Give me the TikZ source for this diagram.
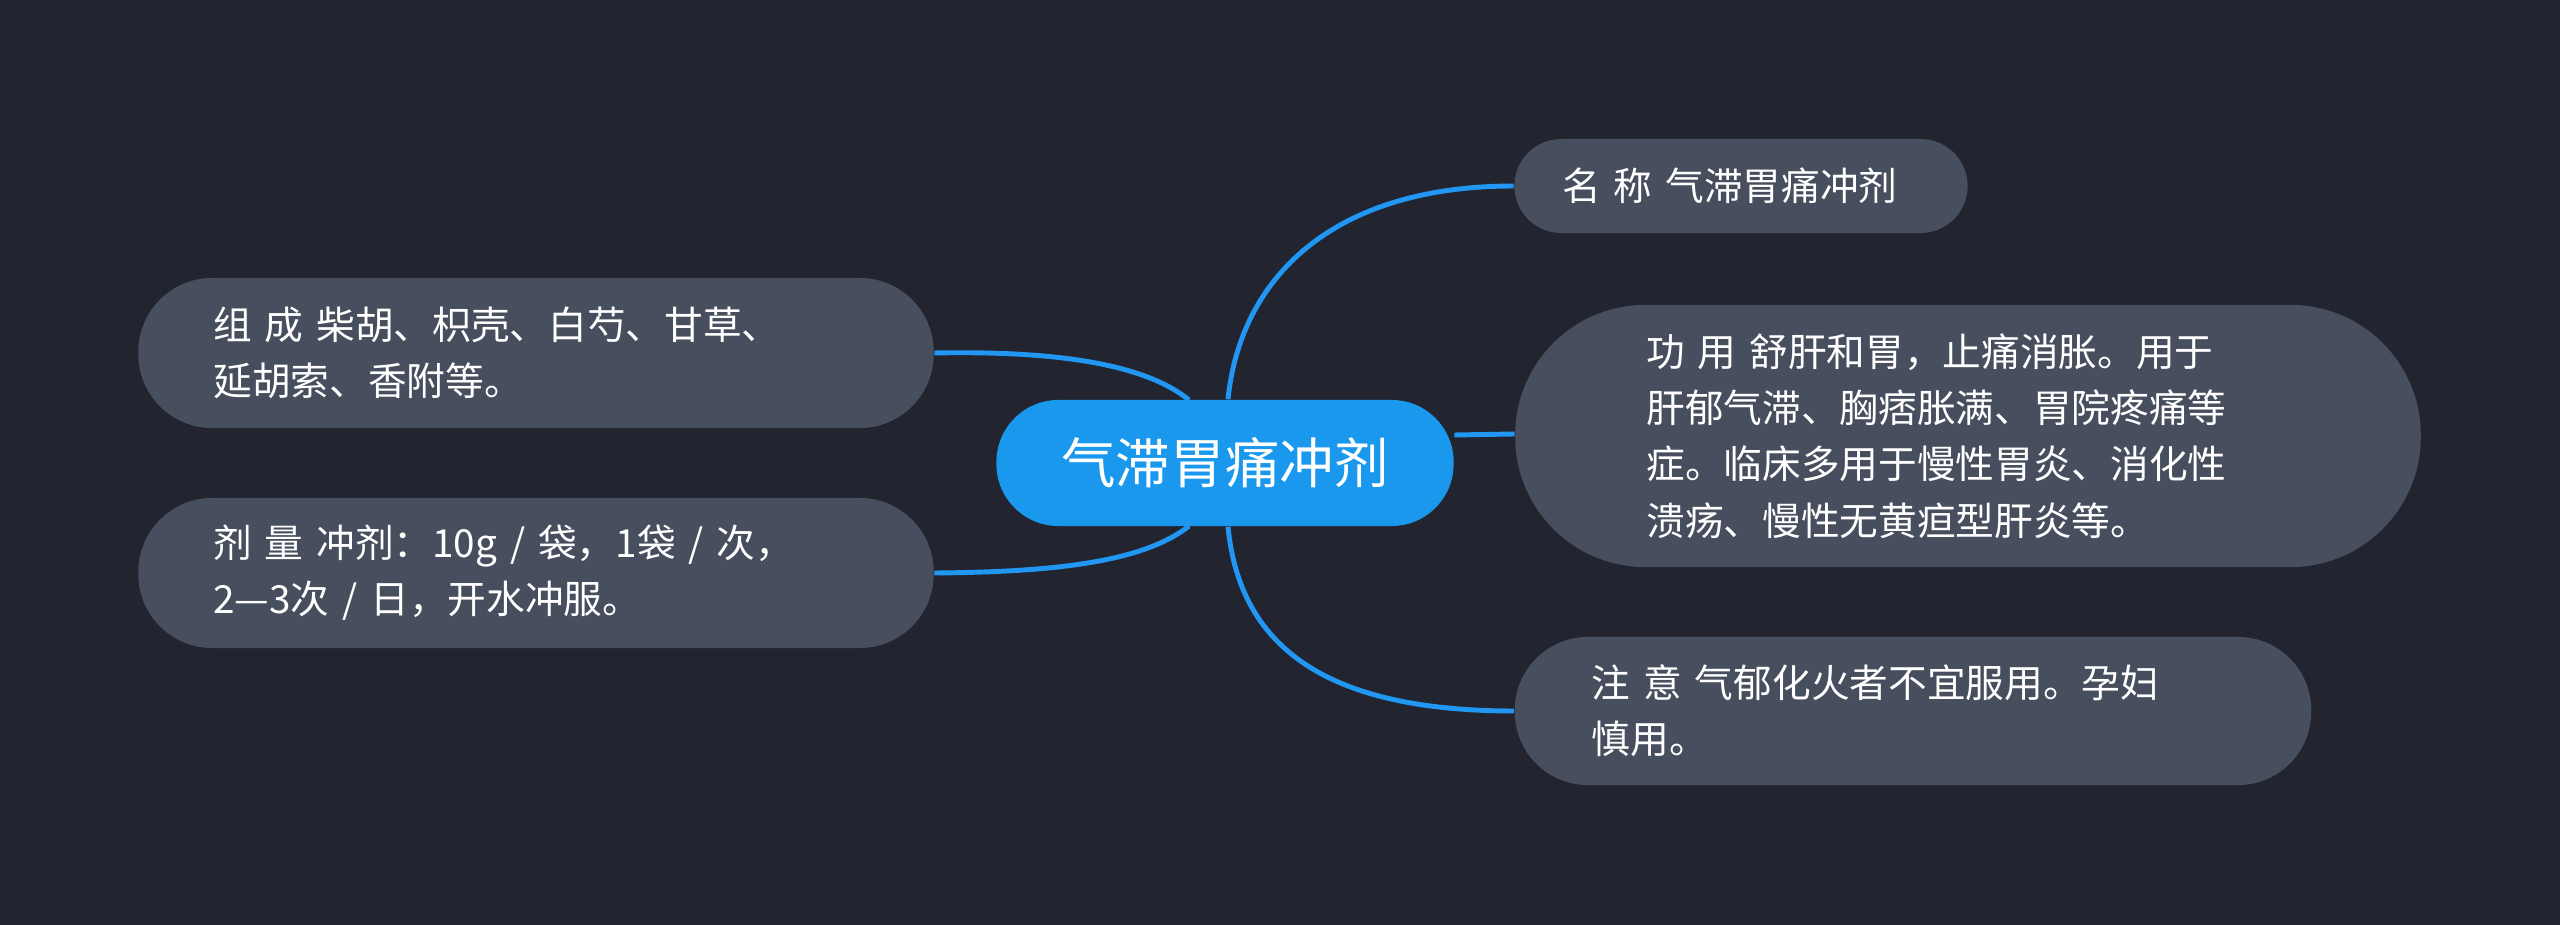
\documentclass[tikz,border=0pt]{standalone}
\usepackage{fontspec}
\setmainfont{Noto Sans CJK SC}
\begin{document}
\begin{tikzpicture}[x=0.01cm,y=-0.01cm,
  leaf/.style={fill=nodegray,text=white,align=left,inner ysep=0pt,font=\fontsize{11pt}{16pt}\selectfont},
  link/.style={draw=linkblue,line width=1.4pt}]
\definecolor{bg}{HTML}{22252F}
\definecolor{nodegray}{HTML}{474F5E}
\definecolor{centerblue}{HTML}{1A98EE}
\definecolor{linkblue}{HTML}{2196F3}
\fill[bg] (0,0) rectangle (2560,925);
\useasboundingbox (0,0) rectangle (2560,925);
\node[fill=centerblue,text=white,rounded corners=0.62cm,minimum width=4.57cm,minimum height=1.26cm,font=\fontsize{15.5pt}{18pt}\selectfont] (c) at (1225,463) {气滞胃痛冲剂};
\node[leaf,rounded corners=0.47cm,minimum height=0.94cm,inner xsep=0.48cm,text width=3.57cm] (name) at (1741,186) {名 称 气滞胃痛冲剂};
\node[leaf,rounded corners=1.3cm,minimum height=2.62cm,inner xsep=1.31cm,text width=6.43cm] (func) at (1968,436) {功 用 舒肝和胃，止痛消胀。用于\\肝郁气滞、胸痞胀满、胃院疼痛等\\症。临床多用于慢性胃炎、消化性\\溃疡、慢性无黄疸型肝炎等。};
\node[leaf,rounded corners=0.73cm,minimum height=1.48cm,inner xsep=0.77cm,text width=6.42cm] (note) at (1913,711) {注 意 气郁化火者不宜服用。孕妇\\慎用。};
\node[leaf,rounded corners=0.74cm,minimum height=1.5cm,inner xsep=0.75cm,text width=6.45cm] (comp) at (536,353) {组 成 柴胡、枳壳、白芍、甘草、\\延胡索、香附等。};
\node[leaf,rounded corners=0.74cm,minimum height=1.5cm,inner xsep=0.75cm,text width=6.45cm] (dose) at (536,573) {剂 量 冲剂：10g / 袋，1袋 / 次，\\2—3次 / 日，开水冲服。};
\draw[link] (c.north) ++(3,0) .. controls (1240,280) and (1330,186) .. (name.west);
\draw[link] (c.east) ++(0,-28) -- (func.west |- 1453,434);
\draw[link] (c.south) ++(3,0) .. controls (1240,650) and (1330,711) .. (note.west);
\draw[link] (1189,400) .. controls (1140,360) and (1040,351) .. (comp.east);
\draw[link] (1189,526) .. controls (1140,565) and (1040,572) .. (dose.east);
\end{tikzpicture}
\end{document}
